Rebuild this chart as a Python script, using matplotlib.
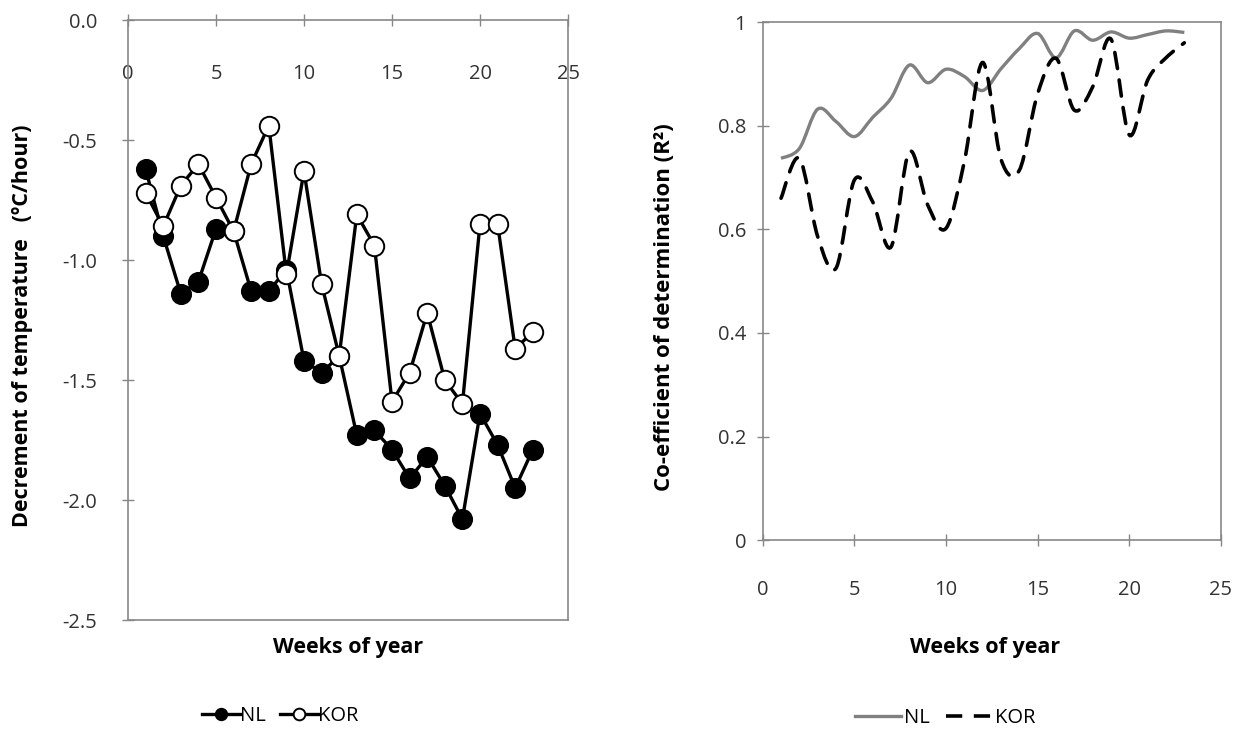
import numpy as np
import matplotlib
matplotlib.use('Agg')
import matplotlib.pyplot as plt
from matplotlib.path import Path
from matplotlib.patches import PathPatch
from matplotlib.lines import Line2D

plt.rcParams['font.family'] = ['Open Sans', 'DejaVu Sans']

weeks = list(range(1, 24))

# left: decrement of temperature (oC/hour)
dec_nl = [-0.62, -0.90, -1.14, -1.09, -0.87, -0.88, -1.13, -1.13, -1.04, -1.42, -1.47, -1.40,
          -1.73, -1.71, -1.79, -1.91, -1.82, -1.94, -2.08, -1.64, -1.77, -1.95, -1.79]
dec_kor = [-0.72, -0.86, -0.69, -0.60, -0.74, -0.88, -0.60, -0.44, -1.06, -0.63, -1.10, -1.40,
           -0.81, -0.94, -1.59, -1.47, -1.22, -1.50, -1.60, -0.85, -0.85, -1.37, -1.30]

# right: R2
r2_nl = [0.737, 0.756, 0.832, 0.808, 0.779, 0.816, 0.853, 0.917, 0.883, 0.909, 0.895, 0.868,
         0.910, 0.949, 0.978, 0.931, 0.983, 0.965, 0.981, 0.969, 0.976, 0.983, 0.980]
r2_kor = [0.660, 0.737, 0.586, 0.525, 0.695, 0.653, 0.566, 0.750, 0.647, 0.602, 0.731, 0.922,
          0.735, 0.714, 0.862, 0.930, 0.830, 0.875, 0.967, 0.782, 0.888, 0.931, 0.960]

xticks = [0, 5, 10, 15, 20, 25]
left_yticks = [0.0, -0.5, -1.0, -1.5, -2.0, -2.5]
right_yticks = [0, 0.2, 0.4, 0.6, 0.8, 1]

W, H = 1245, 730
fig = plt.figure(figsize=(W / 100, H / 100), dpi=100)

spine_col = '#878787'
tick_fs = 14.5
lab_fs = 15.5


def smooth_path(x, y):
    # excel style smoothed line (bezier through the points)
    pts = np.column_stack([x, y]).astype(float)
    n = len(pts)
    verts = [pts[0]]
    codes = [Path.MOVETO]
    for i in range(n - 1):
        p0 = pts[i - 1] if i > 0 else pts[i]
        p1 = pts[i]
        p2 = pts[i + 1]
        p3 = pts[i + 2] if i + 2 < n else pts[i + 1]
        verts += [p1 + (p2 - p0) / 6, p2 - (p3 - p1) / 6, p2]
        codes += [Path.CURVE4] * 3
    return Path(verts, codes)


# ---------------- left panel ----------------
ax1 = fig.add_axes([128 / W, 1 - 620 / H, 440 / W, 600 / H])
ln_nl, = ax1.plot(weeks, dec_nl, color='black', lw=2.4, marker='o', ms=14,
                  mfc='black', mec='black', mew=1.2, label='NL', zorder=3)
ln_kor, = ax1.plot(weeks, dec_kor, color='black', lw=2.4, marker='o', ms=14,
                   mfc='white', mec='black', mew=1.4, label='KOR', zorder=4)
ax1.set_xlim(0, 25)
ax1.set_ylim(-2.5, 0)
ax1.set_xticks(xticks)
ax1.set_yticks(left_yticks)
ax1.set_yticklabels(['%.1f' % v for v in left_yticks])
# x axis sits on top of the plot, labels below the line
ax1.spines['bottom'].set_position(('axes', 1.0))
ax1.spines['top'].set_position(('axes', 0.0))
ax1.xaxis.set_ticks_position('bottom')
ax1.tick_params(axis='x', direction='inout', length=8, width=1, color=spine_col,
                labelsize=tick_fs, pad=28, labelcolor='#333333')
ax1.tick_params(axis='y', direction='inout', length=8, width=1, color=spine_col,
                labelsize=tick_fs, pad=18, labelcolor='#333333')
for s in ax1.spines.values():
    s.set_color(spine_col)
    s.set_linewidth(1.2)
ax1.set_ylabel('Decrement of temperature   (ºC/hour)', fontsize=lab_fs, fontweight='bold')
ax1.yaxis.set_label_coords(-0.216, 0.49)
fig.text(348 / W, 1 - 648 / H, 'Weeks of year', fontsize=lab_fs, fontweight='bold',
         ha='center', va='center')
ax1.legend(handles=[ln_nl, ln_kor], loc='center', bbox_to_anchor=(280 / W, 1 - 716 / H),
           bbox_transform=fig.transFigure, ncol=2, frameon=False, fontsize=tick_fs,
           handlelength=1.9, handletextpad=0.0, columnspacing=0.7, markerscale=0.6)

# ---------------- right panel ----------------
ax2 = fig.add_axes([762.7 / W, 1 - 540.1 / H, 458.3 / W, 518 / H])
ax2.add_patch(PathPatch(smooth_path(weeks, r2_nl), fill=False, edgecolor='#808080',
                        lw=2.4, zorder=3))
ax2.add_patch(PathPatch(smooth_path(weeks, r2_kor), fill=False, edgecolor='black',
                        lw=2.6, linestyle=(0, (4.5, 3.2)), capstyle='round', zorder=4))
ax2.set_xlim(0, 25)
ax2.set_ylim(0, 1)
ax2.set_xticks(xticks)
ax2.set_yticks(right_yticks)
ax2.set_yticklabels(['0', '0.2', '0.4', '0.6', '0.8', '1'])
ax2.tick_params(axis='both', direction='inout', length=8, width=1, color=spine_col,
                labelsize=tick_fs, labelcolor='#333333')
ax2.tick_params(axis='x', pad=25)
ax2.tick_params(axis='y', pad=8)
for s in ax2.spines.values():
    s.set_color(spine_col)
    s.set_linewidth(1.2)
ax2.set_ylabel('Co-efficient of determination (R²)', fontsize=lab_fs + 0.5, fontweight='bold')
ax2.yaxis.set_label_coords(-0.191, 0.45)
fig.text(985 / W, 1 - 647 / H, 'Weeks of year', fontsize=lab_fs, fontweight='bold',
         ha='center', va='center')
h_nl = Line2D([], [], color='#808080', lw=2.4)
h_kor = Line2D([], [], color='black', lw=2.6, linestyle=(0, (4.5, 3.2)))
ax2.legend(handles=[h_nl, h_kor], labels=['NL', 'KOR'], loc='center',
           bbox_to_anchor=(945 / W, 1 - 718 / H), bbox_transform=fig.transFigure,
           ncol=2, frameon=False, fontsize=tick_fs, handlelength=2.3, handletextpad=0.15,
           columnspacing=0.8)

fig.savefig('out.png', dpi=100)
